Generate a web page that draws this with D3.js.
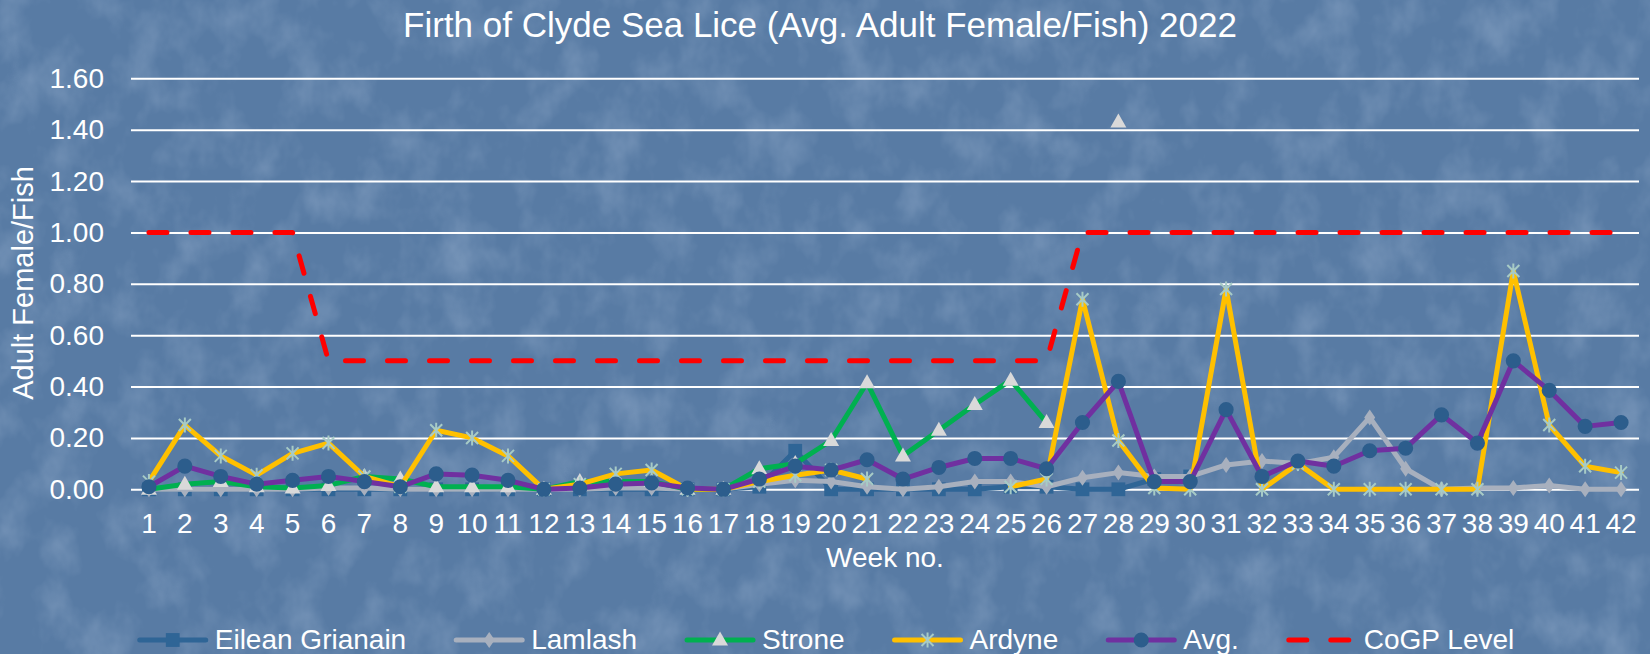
<!DOCTYPE html>
<html>
<head>
<meta charset="utf-8">
<script src="https://cdn.jsdelivr.net/npm/d3@7"></script>
<style>
  html, body { margin: 0; padding: 0; background: #587aa3; }
  svg { display: block; font-family: "Liberation Sans", Arial, sans-serif; }
</style>
</head>
<body>
<svg id="chart" width="1650" height="654" viewBox="0 0 1650 654"></svg>
<script>
// week numbers on the category axis
const weeks = [1,2,3,4,5,6,7,8,9,10,11,12,13,14,15,16,17,18,19,20,21,
               22,23,24,25,26,27,28,29,30,31,32,33,34,35,36,37,38,39,40,41,42];

const eileanGrianain = [0,0,0,0,0,0,0,0,0,0, 0,0,0,0,0,0,0,0.01,0.15,0,
                        0,0,0,0,0.01,0.01,0,0,0.04,0.05,
                        null,null,null,null,null,null,null,null,null,null,null,null];
const lamlash = [0,0,0,0,0,0.005,0.005,0,0,0, 0,0,0,0.005,0.005,0,0,0.02,0.035,0.03,
                 0.01,0,0.01,0.03,0.03,0.01,0.045,0.065,0.05,0.05,
                 0.095,0.11,0.1,0.125,0.28,0.08,0,0.005,0.005,0.015,0,0];
const strone = [0,0.02,0.03,0.01,0.005,0.015,0.05,0.04,0.01,0.01, 0.01,0,0.03,0.03,0.03,0,0,0.08,0.1,0.19,
                0.415,0.13,0.23,0.33,0.425,0.26,null,1.43,null,null,
                null,null,null,null,null,null,null,null,null,null,null,null];
const ardyne = [0.03,0.25,0.13,0.055,0.14,0.18,0.05,0.01,0.23,0.2, 0.13,0,0.02,0.06,0.075,0,0,0.03,0.055,0.075,
                0.04,null,null,null,0.01,0.04,0.74,0.19,0.005,0,
                0.78,0,0.1,0,0,0,0,0,0.85,0.25,0.09,0.065];
const avg = [0.01,0.09,0.05,0.02,0.035,0.05,0.03,0.01,0.06,0.055, 0.035,0,0.005,0.02,0.025,0.005,0,0.04,0.09,0.075,
             0.115,0.04,0.085,0.12,0.12,0.08,0.26,0.42,0.03,0.03,
             0.31,0.05,0.11,0.09,0.15,0.16,0.29,0.18,0.5,0.385,0.245,0.26];
const cogpLevel = [1,1,1,1,1, 0.5,0.5,0.5,0.5,0.5,0.5,0.5,0.5,0.5,0.5,0.5,0.5,0.5,0.5,0.5,0.5,0.5,0.5,0.5,0.5,0.5,
                   1,1,1,1,1,1,1,1,1,1,1,1,1,1,1,1];

const yTicks = [0,0.2,0.4,0.6,0.8,1.0,1.2,1.4,1.6];

const series = [
  {name: "Eilean Grianain", values: eileanGrianain, line: "#2f6596", marker: "square", fill: "#2f6596"},
  {name: "Lamlash", values: lamlash, line: "#a8b0be", marker: "diamond", fill: "#a8b0be"},
  {name: "Strone", values: strone, line: "#00b050", marker: "triangle", fill: "#d9d9d9"},
  {name: "Ardyne", values: ardyne, line: "#ffc000", marker: "star", fill: "#a7cbc6"},
  {name: "Avg.", values: avg, line: "#7030a0", marker: "circle", fill: "#2c5d8c"},
  {name: "CoGP Level", values: cogpLevel, line: "#ff0000", marker: "none", dashed: true}
];

const svg = d3.select("#chart");
const W = 1650, H = 654;
const plot = {left: 131, right: 1639, top: 78.3, bottom: 489.3};

// background texture (mottled water look)
const defs = svg.append("defs");
const filt = defs.append("filter").attr("id", "tex")
  .attr("x", 0).attr("y", 0).attr("width", "100%").attr("height", "100%");
filt.append("feTurbulence").attr("type", "fractalNoise")
  .attr("baseFrequency", "0.025 0.018").attr("numOctaves", 4).attr("seed", 11);
filt.append("feColorMatrix").attr("type", "matrix")
  .attr("values", "0 0 0 0 0.75  0 0 0 0 0.85  0 0 0 0 1  1.4 0 0 0 -0.62");

svg.append("rect").attr("width", W).attr("height", H).attr("fill", "#587ba4");
svg.append("rect").attr("width", W).attr("height", H).attr("filter", "url(#tex)").attr("opacity", 0.3);

const x = d3.scaleBand().domain(weeks).range([plot.left, plot.right]);
const cx = w => x(w) + x.bandwidth() / 2;
const y = d3.scaleLinear().domain([0, 1.6]).range([plot.bottom, plot.top]);

// y axis + gridlines
const yAxis = svg.append("g")
  .attr("transform", `translate(${plot.left},0)`)
  .call(d3.axisLeft(y).tickValues(yTicks).tickFormat(d3.format(".2f"))
    .tickSize(-(plot.right - plot.left)).tickPadding(27));
yAxis.select(".domain").remove();
yAxis.selectAll(".tick line").attr("stroke", "#ffffff").attr("stroke-width", 2);
yAxis.selectAll(".tick text").attr("fill", "#ffffff").style("font-size", "28px");

// x axis labels
const xAxis = svg.append("g")
  .attr("transform", `translate(0,${plot.bottom})`)
  .call(d3.axisBottom(x).tickSize(0).tickPadding(24));
xAxis.select(".domain").remove();
xAxis.selectAll(".tick text").attr("fill", "#ffffff").style("font-size", "28px");

// titles
svg.append("text").attr("x", 820).attr("y", 37).attr("text-anchor", "middle")
  .attr("fill", "#fff").style("font-size", "35px")
  .text("Firth of Clyde Sea Lice (Avg. Adult Female/Fish) 2022");
svg.append("text").attr("transform", "translate(33,283) rotate(-90)").attr("text-anchor", "middle")
  .attr("fill", "#fff").style("font-size", "29px").text("Adult Female/Fish");
svg.append("text").attr("x", (plot.left + plot.right) / 2).attr("y", 567).attr("text-anchor", "middle")
  .attr("fill", "#fff").style("font-size", "28px").text("Week no.");

function markerPath(type) {
  switch (type) {
    case "square": return d3.symbol(d3.symbolSquare, 190)();
    case "diamond": return "M0,-8L5.5,0L0,8L-5.5,0Z";
    case "triangle": return "M0,-8.5L8,5.5L-8,5.5Z";
    case "circle": return d3.symbol(d3.symbolCircle, 180)();
    case "star": return "M-6,-6L6,6M-6,6L6,-6M0,-7.5L0,7.5";
  }
  return null;
}

function drawMarker(g, type, fill) {
  const p = g.append("path").attr("d", markerPath(type));
  if (type === "star") p.attr("fill", "none").attr("stroke", fill).attr("stroke-width", 2);
  else p.attr("fill", fill);
}

const line = d3.line()
  .defined(d => d.v !== null)
  .x(d => cx(d.w))
  .y(d => y(d.v));

series.forEach(s => {
  const pts = weeks.map((w, i) => ({w: w, v: s.values[i]}));
  const g = svg.append("g");
  const path = g.append("path").datum(pts)
    .attr("d", line)
    .attr("fill", "none")
    .attr("stroke", s.line)
    .attr("stroke-width", 5)
    .attr("stroke-linejoin", "round")
    .attr("stroke-linecap", "round");
  if (s.dashed) path.attr("stroke-dasharray", "18,24");
  if (s.marker !== "none") {
    pts.filter(d => d.v !== null).forEach(d => {
      const mg = g.append("g").attr("transform", `translate(${cx(d.w)},${y(d.v)})`);
      drawMarker(mg, s.marker, s.fill);
    });
  }
});

// legend
const legend = svg.append("g");
const lineLen = 72, textGap = 6, itemGap = 47, legY = 640;
let lx = 0;
series.forEach(s => {
  const item = legend.append("g").attr("transform", `translate(${lx},0)`);
  const lp = item.append("path").attr("d", `M3,${legY}L${lineLen - 3},${legY}`)
    .attr("stroke", s.line).attr("stroke-width", 5).attr("stroke-linecap", "round").attr("fill", "none");
  if (s.dashed) lp.attr("stroke-dasharray", "18,24");
  if (s.marker !== "none") {
    const mg = item.append("g").attr("transform", `translate(${lineLen / 2},${legY})`);
    drawMarker(mg, s.marker, s.fill);
  }
  const t = item.append("text").attr("x", lineLen + textGap).attr("y", legY + 9)
    .attr("fill", "#fff").style("font-size", "28px").text(s.name);
  lx += lineLen + textGap + t.node().getComputedTextLength() + itemGap;
});
const legW = lx - itemGap;
legend.attr("transform", `translate(${825.5 - legW / 2},0)`);
</script>
</body>
</html>
